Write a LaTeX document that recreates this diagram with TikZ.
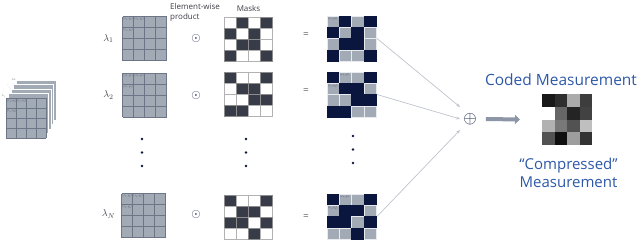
\documentclass[tikz,border=0pt]{standalone}
\usepackage{fontspec}
\setmainfont{Open Sans}
\usetikzlibrary{arrows.meta,calc}
\definecolor{cellgray}{RGB}{162,170,182}
\definecolor{gridln}{RGB}{108,118,135}
\definecolor{maskdark}{RGB}{55,60,72}
\definecolor{navy}{RGB}{10,22,62}
\definecolor{txtblue}{RGB}{45,88,168}
\definecolor{linegray}{RGB}{190,195,205}
\definecolor{arrowgray}{RGB}{140,150,166}
\definecolor{dark}{RGB}{60,62,70}
\newcommand\tinylab[1]{\scalebox{0.3}{$#1$}}
\newcommand\drawcells[6]{%
  \foreach \v [count=\k from 0] in {#6}{%
    \pgfmathtruncatemacro\cc{mod(\k,4)}%
    \pgfmathtruncatemacro\rr{div(\k,4)}%
    \ifnum\v=1\relax
      \path[#5] ($(#1.north west)+(\cc*#2,\rr*#3)$) rectangle ++(#2,#3);
    \else
      \path[#4] ($(#1.north west)+(\cc*#2,\rr*#3)$) rectangle ++(#2,#3);
    \fi}}
\newcommand\graygrid[1]{%
  \fill[cellgray] (#1.north west) rectangle (#1.south east);
  \foreach \i in {0,1,2,3,4}{%
    \draw[gridln,line width=0.7] ($(#1.north west)+(\i*11,0)$) -- ++(0,44);
    \draw[gridln,line width=0.7] ($(#1.north west)+(0,\i*11)$) -- ++(44,0);}
  \node[lbl] at ($(#1.north west)+(0.6,1)$) {\tinylab{(x_1,y_1)}};
  \node[lbl] at ($(#1.north west)+(11.6,1)$) {\tinylab{(x_2,y_1)}};
  \node[lbl] at ($(#1.north west)+(0.6,12)$) {\tinylab{(x_1,y_2)}};}
\begin{document}
\begin{tikzpicture}[x=1pt,y=-1pt,
  lbl/.style={anchor=north west,inner sep=0pt,font=\fontsize{10}{10}\selectfont,text=dark},
  gbox/.style={minimum width=44pt,minimum height=44pt,inner sep=0pt,outer sep=0pt},
  mbox/.style={minimum width=48pt,minimum height=44pt,inner sep=0pt,outer sep=0pt},
  rbox/.style={minimum width=49pt,minimum height=45pt,inner sep=0pt,outer sep=0pt},
  mw/.style={fill=white,draw=black!30,line width=0.4},
  md/.style={fill=maskdark,draw=black!45,line width=0.3},
  rg/.style={fill=cellgray,draw=white!75!cellgray,line width=0.3},
  rn/.style={fill=navy,draw=navy,line width=0.3},
  lam/.style={font=\fontsize{10}{12}\selectfont,text=dark},
  opnode/.style={font=\fontsize{12}{12}\selectfont,text=navy,inner sep=0pt},
  eqnode/.style={font=\fontsize{10}{12}\selectfont,text=black!60},
  vdot/.style={fill=navy,draw=none},
  conn/.style={linegray,line width=0.7,-{Stealth[length=4pt,width=3pt]}},
  bluetext/.style={text=txtblue,align=center,inner sep=0pt}]
\useasboundingbox (0,0) rectangle (640,241);

% ---- left stack of spectral layers
\foreach \k in {4,3,2,1,0}{%
  \fill[cellgray,draw=white,line width=0.6] (6+2.5*\k,98-4.5*\k) rectangle ++(40,40);}
\foreach \i in {0,1,2,3,4}{%
  \draw[gridln,line width=0.5] (6+\i*10,98) -- ++(0,40);
  \draw[gridln,line width=0.5] (6,98+\i*10) -- ++(40,0);}
\node[lbl] at (6.6,99.2) {\tinylab{(x_1,y_1)}};
\node[lbl] at (16.6,99.2) {\tinylab{(x_2,y_1)}};
\node[lbl] at (6.6,109.2) {\tinylab{(x_1,y_2)}};
\node[lbl,anchor=center] (stN) at (14,79.5) {\tinylab{\lambda_N}};
\node[lbl,anchor=center,rotate=-60] (stD) at (9,87.5) {\scalebox{0.5}{$\cdots$}};
\node[lbl,anchor=center] (st1) at (3.5,96) {\tinylab{\lambda_1}};

% ---- header
\node[anchor=west,align=left,font=\fontsize{8}{9.5}\selectfont,text=dark,inner sep=0pt] (hdr) at (170,12.5) {Element-wise\\product};
\node[font=\fontsize{8}{9.5}\selectfont,text=dark,inner sep=0pt] (hmask) at (248.5,8) {Masks};

% ---- row 1
\node[lam] (l1) at (108.5,38.5) {$\lambda_1$};
\node[gbox] (g1) at (144.5,38.5) {};
\graygrid{g1}
\node[opnode] (o1) at (196,38.5) {$\odot$};
\node[mbox] (m1) at (248,39) {};
\drawcells{m1}{12}{11}{mw}{md}{0,1,0,1, 1,0,1,0, 0,1,1,0, 1,0,0,1}
\node[eqnode] (e1) at (306,35.5) {=};
\node[rbox] (r1) at (351.5,38.5) {};
\drawcells{r1}{12.25}{11.25}{rg}{rn}{0,1,0,1, 1,0,1,0, 0,1,1,0, 1,0,0,1}
\node[lbl] at ($(r1.north west)+(0.6,1)$) {\tinylab{(x_1,y_1)}};

% ---- row 2
\node[lam] (l2) at (108.5,95) {$\lambda_2$};
\node[gbox] (g2) at (144.5,95) {};
\graygrid{g2}
\node[opnode] (o2) at (196,95) {$\odot$};
\node[mbox] (m2) at (248,94.5) {};
\drawcells{m2}{12}{11}{mw}{md}{1,0,0,1, 0,1,1,0, 0,0,1,1, 1,1,0,0}
\node[eqnode] (e2) at (306,91) {=};
\node[rbox] (r2) at (351.5,94.5) {};
\drawcells{r2}{12.25}{11.25}{rg}{rn}{1,0,0,1, 0,1,1,0, 0,0,1,1, 1,1,0,0}
\node[lbl] at ($(r2.north west)+(12.85,1)$) {\tinylab{(x_2,y_1)}};
\node[lbl] at ($(r2.north west)+(0.6,12.25)$) {\tinylab{(x_1,y_2)}};

% ---- vertical dots
\foreach \yy in {139,152.5,166}{\fill[vdot] (142,\yy) circle (1.3);}
\foreach \yy in {139,152.5,166}{\fill[vdot] (246,\yy) circle (1.3);}
\foreach \yy in {136,149.5,163}{\fill[vdot] (353,\yy) circle (1.3);}

% ---- row N
\node[lam] (lN) at (108.5,214) {$\lambda_N$};
\node[gbox] (gN) at (143.5,215.5) {};
\graygrid{gN}
\node[opnode] (oN) at (196,214) {$\odot$};
\node[mbox] (mN) at (248,217) {};
\drawcells{mN}{12}{11}{mw}{md}{1,0,0,1, 0,1,1,0, 1,1,0,1, 0,0,1,0}
\node[eqnode] (eN) at (306,217.5) {=};
\node[rbox] (rN) at (351.5,216.5) {};
\drawcells{rN}{12.25}{11.25}{rg}{rn}{1,0,0,1, 0,1,1,0, 1,1,0,1, 0,0,1,0}
\node[lbl] at ($(rN.north west)+(12.85,1)$) {\tinylab{(x_2,y_1)}};
\node[lbl] at ($(rN.north west)+(0.6,12.25)$) {\tinylab{(x_1,y_2)}};

% ---- sum
\node[font=\fontsize{16}{16}\selectfont,text=navy,inner sep=1pt] (plus) at (470,119) {$\oplus$};
\draw[conn] ([xshift=1pt]r1.east) -- ([xshift=-2pt,yshift=5pt]plus.north west);
\draw[conn] ([xshift=1pt]r2.east) -- ([xshift=-2pt]plus.west);
\draw[conn] ([xshift=1pt]rN.east) -- ([xshift=-2pt,yshift=-4pt]plus.south west);

% ---- coded measurement
\node[bluetext,font=\fontsize{15.5}{18}\selectfont] (cmt) at (561,80) {Coded Measurement};
\node[minimum width=50pt,minimum height=51pt,inner sep=0pt,outer sep=0pt] (coded) at (567,119.5) {};
\foreach \r/\c/\g in {0/0/90,0/1/82,0/2/33,0/3/76,
                      1/0/0,1/1/60,1/2/86,1/3/74,
                      2/0/30,2/1/53,2/2/68,2/3/25,
                      3/0/68,3/1/94,3/2/38,3/3/80}{%
  \fill[black!\g] ($(coded.north west)+(\c*12.5,\r*12.75)$) rectangle ++(12.5,12.75);}
\draw[arrowgray,line width=4pt,-{Triangle[length=5pt,width=9pt]}] ([xshift=8pt]plus.east) -- ([xshift=-22pt]coded.west);
\node[bluetext,font=\fontsize{15}{18.5}\selectfont] (cmp) at (568.5,173) {“Compressed”\\Measurement};
\end{tikzpicture}
\end{document}
